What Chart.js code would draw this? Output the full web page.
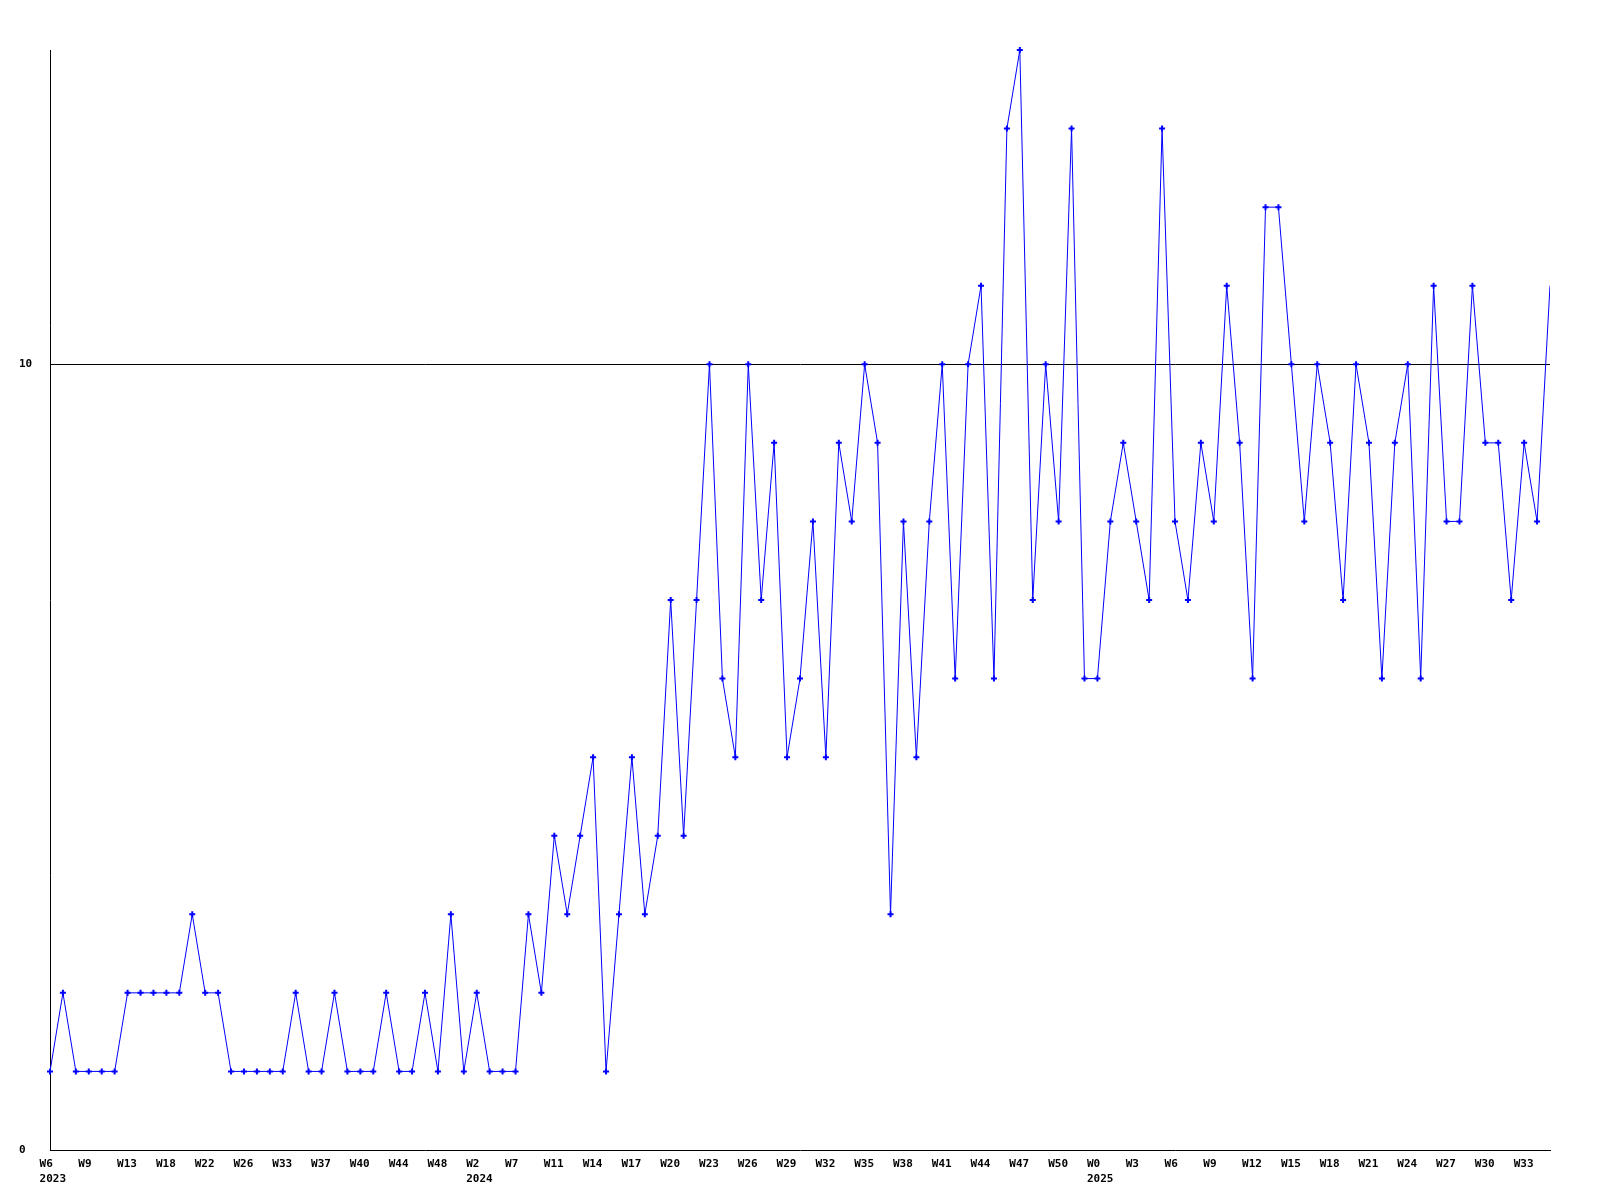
<!DOCTYPE html>
<html>
<head>
<meta charset="utf-8">
<script src="https://cdn.jsdelivr.net/npm/chart.js@4.4.1/dist/chart.umd.min.js"></script>
<style>
  body { margin: 0; background: #fff; }
  canvas { display: block; }
</style>
</head>
<body>
<canvas id="canvas1" width="1600" height="1200"></canvas>
<script>
// weekly counts, one point per week
const values = [
  1, 2, 1, 1, 1, 1, 2, 2, 2, 2, 2, 3, 2, 2, 1, 1, 1, 1, 1, 2,
  1, 1, 2, 1, 1, 1, 2, 1, 1, 2, 1, 3, 1, 2, 1, 1, 1, 3, 2, 4,
  3, 4, 5, 1, 3, 5, 3, 4, 7, 4, 7, 10, 6, 5, 10, 7, 9, 5, 6, 8,
  5, 9, 8, 10, 9, 3, 8, 5, 8, 10, 6, 10, 11, 6, 13, 14, 7, 10, 8, 13,
  6, 6, 8, 9, 8, 7, 13, 8, 7, 9, 8, 11, 9, 6, 12, 12, 10, 8, 10, 9,
  7, 10, 9, 6, 9, 10, 6, 11, 8, 8, 11, 9, 9, 7, 9, 8, 11
];

// x tick labels, one every 3rd point
const weekTicks = [
  'W6', 'W9', 'W13', 'W18', 'W22', 'W26', 'W33', 'W37', 'W40', 'W44', 'W48',
  'W2', 'W7', 'W11', 'W14', 'W17', 'W20', 'W23', 'W26', 'W29', 'W32', 'W35',
  'W38', 'W41', 'W44', 'W47', 'W50',
  'W0', 'W3', 'W6', 'W9', 'W12', 'W15', 'W18', 'W21', 'W24', 'W27', 'W30', 'W33'
];
const years = ['2023', '2024', '2025'];
const yearAt = [0, 11, 27];   // index in weekTicks where the year is printed
const tickEvery = 3;

const yTicks = [0, 10];

const last = values.length - 1;
const points = values.map(function (v, i) { return { x: i, y: v }; });

// labels sit a little left of their point (left aligned text)
const labelShift = 0.81;

function tickLabel(i) {
  const t = Math.round(i / tickEvery);
  const w = weekTicks[t] || '';
  const y = yearAt.indexOf(t);
  return y >= 0 ? [w, years[y]] : w;
}

const font = { family: 'DejaVu Sans Mono', size: 11, weight: 'bold', lineHeight: 1.32 };

new Chart(document.getElementById('canvas1'), {
  type: 'line',
  data: {
    datasets: [{
      data: points,
      borderColor: '#0000ff',
      borderWidth: 1,
      tension: 0,
      fill: false,
      pointStyle: 'cross',
      pointRadius: function (ctx) { return ctx.dataIndex === last ? 0 : 3; },
      pointBorderWidth: 2,
      pointBorderColor: '#0000ff',
      pointBackgroundColor: '#0000ff',
      clip: { left: 5, top: 5, right: 0, bottom: 5 }
    }]
  },
  options: {
    responsive: false,
    animation: false,
    layout: { padding: { left: 19, right: 50, top: 50, bottom: 0 } },
    plugins: { legend: { display: false }, tooltip: { enabled: false } },
    scales: {
      x: {
        type: 'linear',
        min: 0,
        max: last,
        display: false
      },
      xt: {
        type: 'linear',
        position: 'bottom',
        min: labelShift,
        max: last + labelShift,
        afterFit: function (scale) { scale.height = 50; },
        afterBuildTicks: function (scale) {
          const t = [];
          for (let i = 0; i <= last; i += tickEvery) t.push({ value: i });
          scale.ticks = t;
        },
        grid: { display: false, drawTicks: false },
        border: { display: true, color: '#000', width: 1 },
        ticks: {
          autoSkip: false,
          maxRotation: 0,
          align: 'start',
          padding: 7,
          color: '#000',
          font: font,
          callback: function (value) { return tickLabel(value); }
        }
      },
      y: {
        min: 0,
        max: 14,
        afterFit: function (scale) { scale.width = 31; },
        afterBuildTicks: function (scale) {
          scale.ticks = yTicks.map(function (v) { return { value: v }; });
        },
        grid: {
          drawTicks: false,
          color: function (ctx) { return ctx.tick && ctx.tick.value === 10 ? '#000' : 'rgba(0,0,0,0)'; },
          lineWidth: 1
        },
        border: { display: true, color: '#000', width: 1 },
        ticks: {
          crossAlign: 'far',
          padding: 0,
          color: '#000',
          font: font
        }
      }
    }
  }
});
</script>
</body>
</html>
